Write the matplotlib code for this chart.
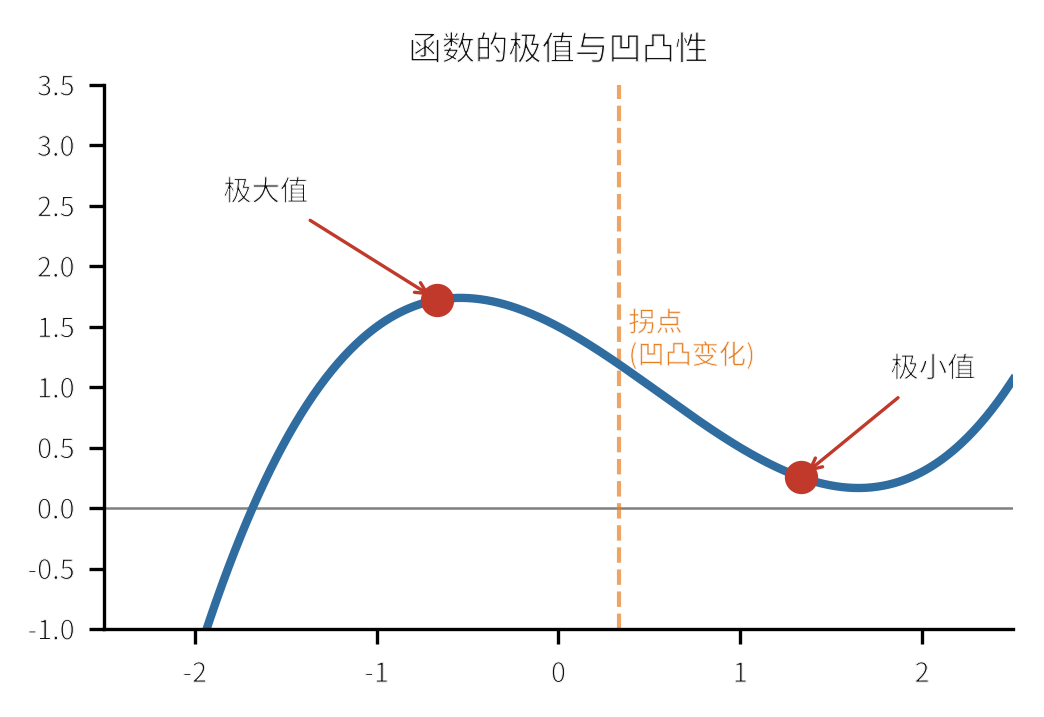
import matplotlib

matplotlib.use("Agg")
import matplotlib.patheffects as pe
import matplotlib.pyplot as plt
import numpy as np

# cubic: f(x) = 0.3x^3 - 0.5x^2 - 0.8x + 1.5
coef = [0.3, -0.5, -0.8, 1.5]
x_range = [-2.5, 2.5]
y_range = [-1.0, 3.5]
max_x = -2 / 3
min_x = 4 / 3
inflection_x = 1 / 3
xticks = [-2, -1, 0, 1, 2]
yticks = [-1.0, -0.5, 0.0, 0.5, 1.0, 1.5, 2.0, 2.5, 3.0, 3.5]

title = "函数的极值与凹凸性"
max_label = "极大值"
min_label = "极小值"
inflection_label = "拐点\n(凹凸变化)"
max_text_pos = (-1.61, 2.61)
min_text_pos = (2.06, 1.15)
inflection_text_pos = (0.385, 1.39)

curve_color = "#2f6ca0"
point_color = "#c0392b"
orange = "#e67e22"

plt.rcParams["font.family"] = ["Noto Sans CJK SC", "DejaVu Sans"]
plt.rcParams["axes.unicode_minus"] = False

# the installed CJK font has no light weight, so thin the glyphs a little
thin = [pe.Normal(), pe.Stroke(linewidth=0.25, foreground="white")]
thin_orange = [pe.Normal(), pe.Stroke(linewidth=0.18, foreground="white")]


def main():
    fig = plt.figure(figsize=(3.48, 2.39), dpi=300)
    ax = fig.add_axes([0.0996, 0.1227, 0.8707, 0.7588])

    x = np.linspace(x_range[0], x_range[1], 600)
    y = np.polyval(coef, x)

    ax.axhline(0, color="gray", lw=0.6, zorder=1)
    ax.axvline(inflection_x, color=orange, lw=1.0, ls="--", alpha=0.7, zorder=1)
    ax.plot(x, y, color=curve_color, lw=2, zorder=2)

    px = [max_x, min_x]
    py = np.polyval(coef, px)
    ax.plot(px, py, "o", color=point_color, ms=7, zorder=3)

    arrow = dict(arrowstyle="->", color=point_color, lw=0.8)
    ax.annotate(max_label, xy=(px[0], py[0]), xytext=max_text_pos,
                ha="center", va="center", fontsize=6.8, color="#111111",
                arrowprops=arrow, path_effects=thin)
    ax.annotate(min_label, xy=(px[1], py[1]), xytext=min_text_pos,
                ha="center", va="center", fontsize=6.8, color="#111111",
                arrowprops=arrow, path_effects=thin)
    ax.text(inflection_text_pos[0], inflection_text_pos[1], inflection_label,
            ha="left", va="center", fontsize=6.5, color=orange,
            path_effects=thin_orange)

    ax.set_xlim(x_range)
    ax.set_ylim(y_range)
    ax.set_xticks(xticks)
    ax.set_yticks(yticks)
    ax.set_xticklabels([str(t) for t in xticks])
    ax.set_yticklabels([f"{t:.1f}" for t in yticks])
    ax.tick_params(labelsize=6.5, colors="black", labelcolor="#111111")
    ax.tick_params(axis="x", pad=4.2)
    for lab in ax.get_xticklabels() + ax.get_yticklabels():
        lab.set_path_effects(thin)
    ax.spines["top"].set_visible(False)
    ax.spines["right"].set_visible(False)
    ax.set_title(title, fontsize=8, color="#111111", path_effects=thin)

    fig.savefig("out.png", dpi=300)


if __name__ == "__main__":
    main()
